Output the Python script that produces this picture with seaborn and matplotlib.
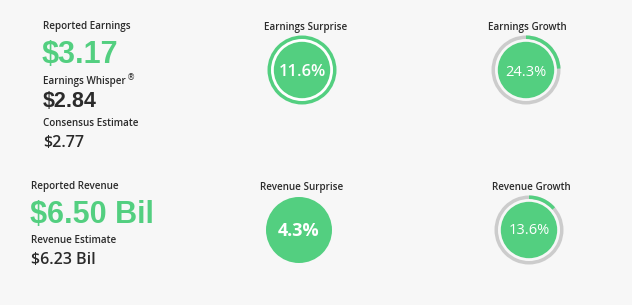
import matplotlib
matplotlib.use("Agg")
import matplotlib.pyplot as plt
from matplotlib.patches import Wedge, Circle
import seaborn as sns

# ---- data ----
earnings_labels = ["Reported Earnings", "Earnings Whisper", "Consensus Estimate"]
earnings_values = ["$3.17", "$2.84", "$2.77"]
revenue_labels = ["Reported Revenue", "Revenue Estimate"]
revenue_values = ["$6.50 Bil", "$6.23 Bil"]
gauge_titles = ["Earnings Surprise", "Earnings Growth", "Revenue Surprise", "Revenue Growth"]
gauge_values = [11.6, 24.3, 4.3, 13.6]

sns.set_theme(style="white")
plt.rcParams["font.family"] = ["Open Sans", "DejaVu Sans"]

BG = "#f7f7f7"
GREEN = "#53cf80"
GRAY = "#cccccc"
DARK = "#2b2b2b"

fig = plt.figure(figsize=(6.32, 3.05), dpi=100, facecolor=BG)
ax = fig.add_axes([0, 0, 1, 1])
ax.set_facecolor(BG)
ax.set_xlim(0, 632)
ax.set_ylim(305, 0)
ax.set_aspect("equal")
ax.axis("off")

small = dict(fontsize=7.1, fontweight=600, color=DARK, va="baseline", ha="left")
big_green = dict(fontsize=22, fontweight="bold", color=GREEN, va="baseline", ha="left",
                 family=["Liberation Sans", "DejaVu Sans"])

# Earnings block
ax.text(43, 29.5, earnings_labels[0], **small)
ax.text(42, 63, earnings_values[0], **big_green)
ax.text(43, 84, earnings_labels[1], **small)
ax.text(127, 80, "®", fontsize=6, color=DARK, va="baseline", ha="left", family=["DejaVu Sans"])
ax.text(43, 107, earnings_values[1], fontsize=15.5, fontweight="bold", color=DARK,
        va="baseline", ha="left", family=["Liberation Sans", "DejaVu Sans"])
ax.text(43, 126, earnings_labels[2], **small)
ax.text(43, 147, earnings_values[2], fontsize=11.5, fontweight=600, color=DARK,
        va="baseline", ha="left")

# Revenue block
ax.text(31, 189, revenue_labels[0], **small)
ax.text(30, 223, revenue_values[0], **big_green)
ax.text(31, 243, revenue_labels[1], **small)
ax.text(31, 264, revenue_values[1], fontsize=11.5, fontweight=600, color=DARK,
        va="baseline", ha="left")

# Gauges
centers = [(302, 70), (526, 70), (299, 230), (529, 230)]
title_pos = [(306, 30), (527, 30), (302, 190), (531, 190)]
val_base = [75.5, 75.5, 236, 234.5]
R_OUT, RING, R_IN = 34.5, 3.5, 28.2

for i, (title, val) in enumerate(zip(gauge_titles, gauge_values)):
    cx, cy = centers[i]
    ax.text(title_pos[i][0], title_pos[i][1], title, fontsize=7.1, fontweight=600,
            color=DARK, ha="center", va="baseline")
    if i == 0:
        ax.add_patch(Circle((cx, cy), R_OUT, color=GREEN, lw=0))
        ax.add_patch(Circle((cx, cy), R_OUT - RING, color="white", lw=0))
        ax.add_patch(Circle((cx, cy), R_IN, color=GREEN, lw=0))
        fs, fw = 12, 600
    elif i == 2:
        ax.add_patch(Circle((cx, cy), 33, color=GREEN, lw=0))
        fs, fw = 13, "bold"
    else:
        ax.add_patch(Wedge((cx, cy), R_OUT, 0, 360, width=RING, color=GRAY, lw=0))
        # y axis is inverted: 12 o'clock is -90 deg, clockwise is increasing angle
        ax.add_patch(Wedge((cx, cy), R_OUT, -90, -90 + val * 3.6, width=RING, color=GREEN, lw=0))
        ax.add_patch(Circle((cx, cy), R_IN, color=GREEN, lw=0))
        fs, fw = 10.5, "normal"
    ax.text(cx, val_base[i], f"{val}%", fontsize=fs, fontweight=fw, color="white",
            ha="center", va="baseline")

fig.savefig("out.png", dpi=100, facecolor=BG)
